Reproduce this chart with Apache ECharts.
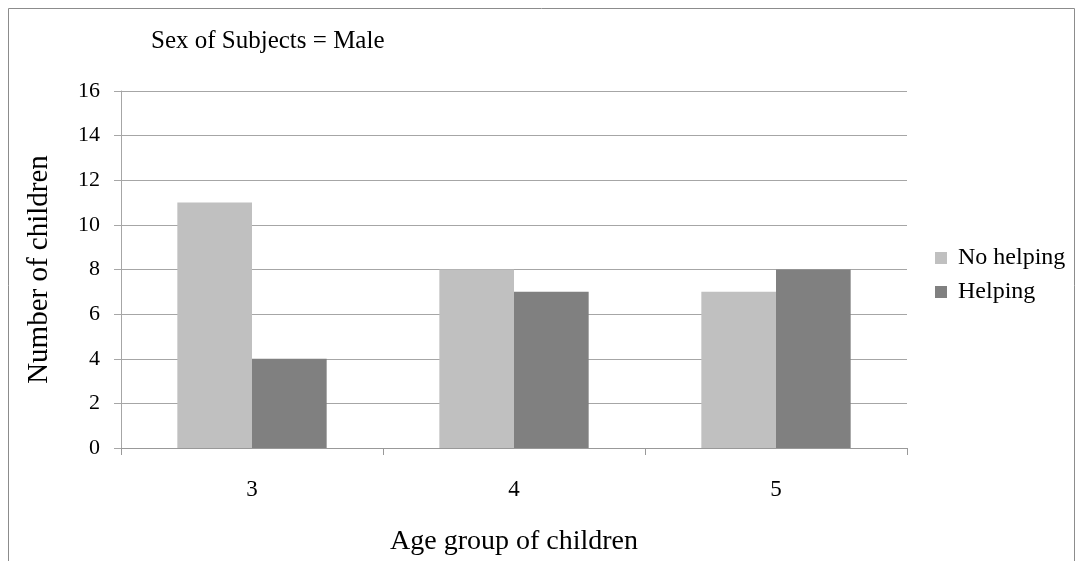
<!DOCTYPE html>
<html>
<head>
<meta charset="utf-8">
<script src="https://cdn.jsdelivr.net/npm/echarts@6/dist/echarts.min.js"></script>
<style>
  html, body { margin: 0; padding: 0; background: #ffffff; }
  #chart { width: 1083px; height: 561px; }
</style>
</head>
<body>
<div id="chart"></div>
<script>
// Age groups on the x axis
var ageGroups = ['3', '4', '5'];
// Number of male children per age group
var noHelping = [11, 8, 7];
var helping = [4, 7, 8];
// Value axis range
var yMin = 0, yMax = 16, yStep = 2;

var serif = '"Liberation Serif", "DejaVu Serif", serif';
var chart = echarts.init(document.getElementById('chart'), null, { renderer: 'canvas' });

chart.setOption({
  animation: false,
  backgroundColor: '#ffffff',
  title: {
    text: 'Sex of Subjects = Male',
    left: 151,
    top: 29,
    padding: 0,
    textStyle: { fontFamily: serif, fontSize: 25, fontWeight: 'normal', color: '#000' }
  },
  graphic: [{
    type: 'rect',
    shape: { x: 8.5, y: 8.5, width: 1066, height: 570 },
    style: { fill: 'none', stroke: '#8c8c8c', lineWidth: 1 },
    silent: true,
    z: -1
  }],
  legend: {
    orient: 'vertical',
    left: 935,
    top: 246,
    padding: 0,
    itemWidth: 12,
    itemHeight: 12,
    itemGap: 10,
    icon: 'rect',
    textStyle: { fontFamily: serif, fontSize: 24, color: '#000', padding: [0, 0, 0, 6] },
    data: ['No helping', 'Helping']
  },
  grid: { left: 121, right: 176, top: 91, bottom: 112, containLabel: false },
  xAxis: {
    type: 'category',
    data: ageGroups,
    name: 'Age group of children',
    nameLocation: 'middle',
    nameGap: 80,
    nameTextStyle: { fontFamily: serif, fontSize: 28, color: '#000' },
    axisLine: { lineStyle: { color: '#999999', width: 1 } },
    axisTick: { show: true, length: 7, alignWithLabel: false, lineStyle: { color: '#999999' } },
    axisLabel: { fontFamily: serif, fontSize: 23, color: '#000', margin: 30 }
  },
  yAxis: {
    type: 'value',
    min: yMin,
    max: yMax,
    interval: yStep,
    name: 'Number of children',
    nameLocation: 'middle',
    nameGap: 67,
    nameRotate: 90,
    nameTextStyle: { fontFamily: serif, fontSize: 29, color: '#000' },
    axisLine: { show: true, lineStyle: { color: '#a6a6a6', width: 1 } },
    axisTick: { show: true, length: 7, lineStyle: { color: '#a6a6a6' } },
    axisLabel: { fontFamily: serif, fontSize: 22, color: '#000', margin: 21 },
    splitLine: { show: true, lineStyle: { color: '#a6a6a6', width: 1 } }
  },
  series: [{
    name: 'No helping',
    type: 'bar',
    data: noHelping,
    barGap: '0%',
    barCategoryGap: '43%',
    itemStyle: { color: '#c0c0c0' }
  }, {
    name: 'Helping',
    type: 'bar',
    data: helping,
    barGap: '0%',
    barCategoryGap: '43%',
    itemStyle: { color: '#808080' }
  }]
});
</script>
</body>
</html>
